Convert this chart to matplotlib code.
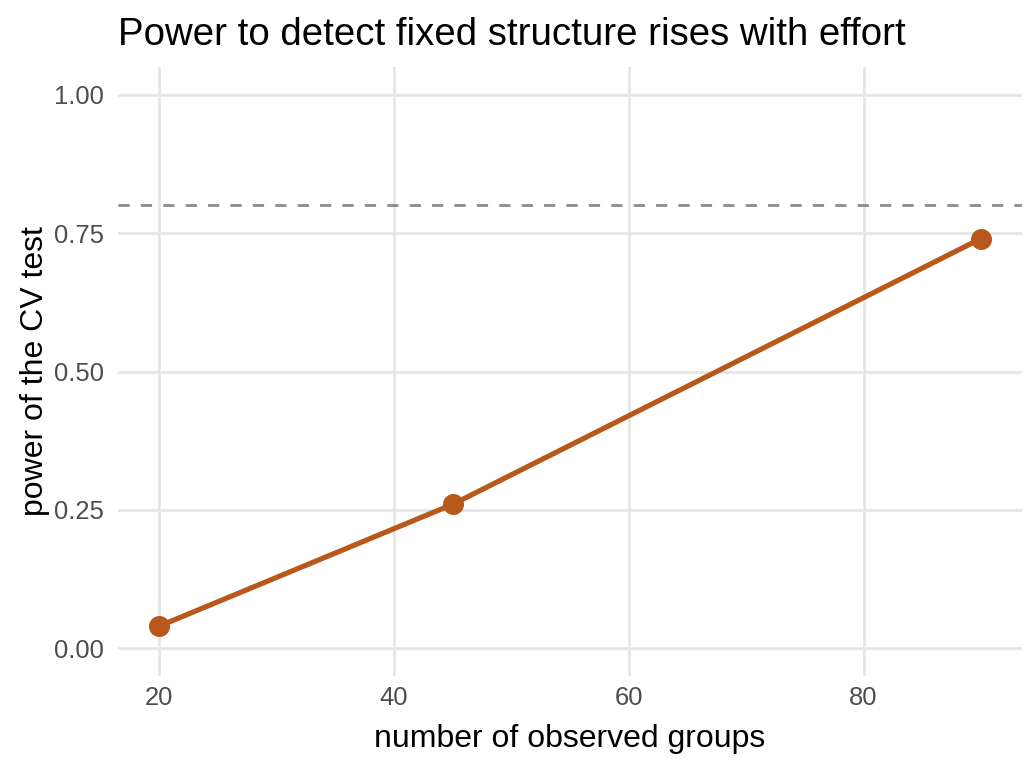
import matplotlib
matplotlib.use("Agg")
import matplotlib.pyplot as plt

groups = [20, 45, 90]
power = [0.04, 0.26, 0.74]
target_power = 0.8
x_ticks = [20, 40, 60, 80]
y_ticks = [0.0, 0.25, 0.5, 0.75, 1.0]
y_tick_labels = ["0.00", "0.25", "0.50", "0.75", "1.00"]

plt.rcParams['font.family'] = ['Liberation Sans', 'DejaVu Sans']

dpi = 144
fig = plt.figure(figsize=(1036 / dpi, 768 / dpi), dpi=dpi)
ax = fig.add_axes([118 / 1036, 1 - 676 / 768, (1022 - 118) / 1036, (676 - 67) / 768])

color = "#B8581A"
ax.axhline(target_power, color="#8C8C8C", lw=1.4, ls=(0, (4, 4)), zorder=2)
ax.plot(groups, power, color=color, lw=2.6, zorder=3, solid_capstyle="butt")
ax.plot(groups, power, 'o', color=color, markersize=10.5, zorder=4, markeredgewidth=0)

ax.set_xlim(16.5, 93.5)
ax.set_ylim(-0.05, 1.05)
ax.set_xticks(x_ticks)
ax.set_yticks(y_ticks)
ax.set_yticklabels(y_tick_labels)
ax.grid(True, color="#E6E6E6", lw=1.4, zorder=0)
ax.set_axisbelow(True)
for s in ax.spines.values():
    s.set_visible(False)
ax.tick_params(length=0, labelsize=12.8, labelcolor="#4D4D4D")
ax.tick_params(axis='y', pad=7)
ax.tick_params(axis='x', pad=5)
ax.set_xlabel("number of observed groups", fontsize=16, labelpad=7)
ax.set_ylabel("power of the CV test", fontsize=16, labelpad=2)
ax.set_title("Power to detect fixed structure rises with effort", fontsize=19.2, loc="left", x=0.0, pad=11)

fig.savefig("out.png", dpi=dpi, facecolor="white")
